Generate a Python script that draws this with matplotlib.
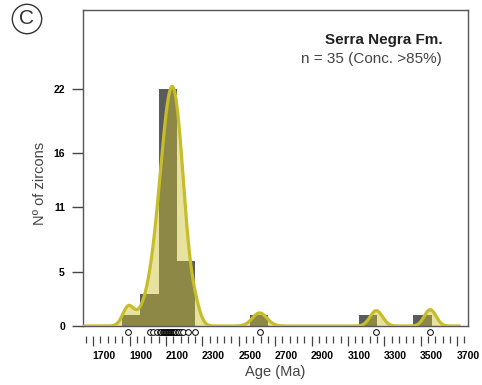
import numpy as np
import matplotlib.pyplot as plt
from matplotlib.ticker import FixedLocator

plt.rcParams['font.family'] = ['Liberation Sans', 'DejaVu Sans']

# U-Pb zircon ages (Ma) and 1-sigma errors, Serra Negra Fm.
ages = [1832,
        1950, 1968, 1988,
        2008, 2015, 2022, 2028, 2033, 2038, 2042, 2046, 2050, 2054, 2058,
        2062, 2066, 2070, 2073, 2076, 2079, 2082, 2085, 2089, 2093, 2097,
        2105, 2112, 2121, 2134, 2161, 2199,
        2555, 3196, 3492]
errors = [30,
          66, 64, 62,
          56, 56, 54, 52, 50, 50, 50, 50, 50, 50, 50,
          48, 48, 48, 48, 46, 46, 46, 46, 44, 44, 44,
          36, 36, 34, 34, 32, 30,
          40, 34, 32]

bin_edges = np.arange(1500, 3800, 100)
y_ticks = [0, 5, 11, 16, 22]
x_labels = [1700, 1900, 2100, 2300, 2500, 2700, 2900, 3100, 3300, 3500, 3700]

fig = plt.figure(figsize=(4.82, 3.85), dpi=100)
ax = fig.add_axes([83 / 482, 1 - 326 / 385, 385 / 482, 316 / 385])
x_min, x_max = 1584, 3660

counts, _, _ = ax.hist(ages, bins=bin_edges, color='#5b5b5b', zorder=1)

# probability density curve, scaled to the tallest bin
xs = np.linspace(x_min, x_max, 1500)
a = np.array(ages)[:, None]
s = np.array(errors)[:, None]
pdp = (np.exp(-0.5 * ((xs - a) / s) ** 2) / s).sum(axis=0)
pdp = pdp / pdp.max() * counts.max() * 1.01

ax.fill_between(xs, pdp, color='#cbbf2c', alpha=0.45, lw=0, zorder=2)
ax.plot(xs, pdp, color='#c6bd2a', lw=2.3, zorder=3, solid_capstyle='butt')

ax.scatter(ages, [-0.55] * len(ages), s=17, facecolor='white', edgecolor='black',
           linewidth=0.7, zorder=5, clip_on=False)

ax.set_xlim(x_min, x_max)
ax.set_ylim(0, 29.3)

for sp in ax.spines.values():
    sp.set_color('#555555')
    sp.set_linewidth(1)

ax.set_yticks(y_ticks)
ax.tick_params(axis='y', direction='out', length=8, width=1, color='#444444',
               pad=5, labelsize=7.5)
for lb in ax.get_yticklabels():
    lb.set_fontweight('bold')

ax.set_xticks(x_labels)
ax.tick_params(axis='x', length=0, pad=18, labelsize=7.5)
for lb in ax.get_xticklabels():
    lb.set_fontweight('bold')

# detached tick row below the sample circles
sec = ax.secondary_xaxis(-0.032)
sec.spines['bottom'].set_visible(False)
sec.xaxis.set_major_locator(FixedLocator(np.arange(1640, 3700, 200)))
sec.xaxis.set_minor_locator(FixedLocator(np.arange(1600, 3700, 40)))
sec.tick_params(which='major', length=7.5, width=0.9, color='#444444', labelbottom=False)
sec.tick_params(which='minor', length=5, width=0.9, color='#444444')

ax.set_xlabel('Age (Ma)', fontsize=10.5, color='#444444')
ax.xaxis.set_label_coords(0.5, -0.146)
ax.xaxis.label.set_va('center')
ax.set_ylabel('Nº of zircons', fontsize=10.5, color='#444444')
ax.yaxis.set_label_coords(-0.111, 0.45)
ax.yaxis.label.set_va('center')

ax.text(0.933, 0.892, 'Serra Negra Fm.', transform=ax.transAxes, ha='right',
        va='baseline', fontsize=11, fontweight='bold', color='#222222')
ax.text(0.933, 0.832, f'n = {len(ages)} (Conc. >85%)', transform=ax.transAxes,
        ha='right', va='baseline', fontsize=11, color='#444444')

fig.text(27 / 482, 1 - 19 / 385, 'C', fontsize=15, ha='center', va='center',
         color='#333333',
         bbox=dict(boxstyle='circle,pad=0.25', fc='none', ec='#333333', lw=1))

fig.savefig('out.png', dpi=100)
